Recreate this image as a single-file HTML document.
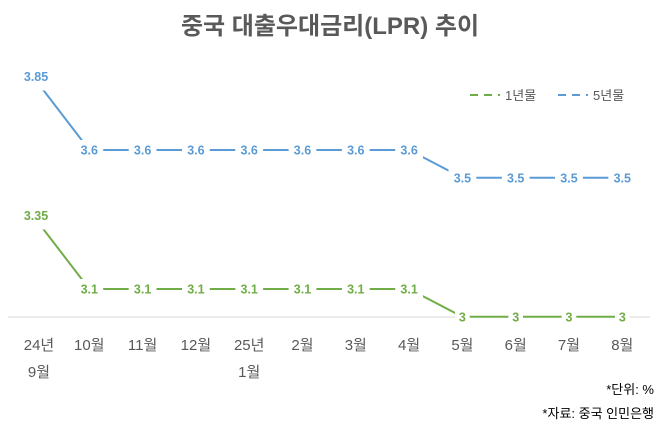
<!DOCTYPE html>
<html><head><meta charset="utf-8">
<style>
html,body{margin:0;padding:0;background:#fff;}
svg{display:block;font-family:"Liberation Sans","Noto Sans CJK KR",sans-serif;}
</style></head>
<body>
<svg id="chart" width="661" height="427" viewBox="0 0 661 427">
  <text x="330" y="34" text-anchor="middle" font-size="24" font-weight="bold" fill="#595959">중국 대출우대금리(LPR) 추이</text>
  <g>
    <g>
      <line x1="470" y1="95" x2="500" y2="95" stroke="#70AD47" stroke-width="2" stroke-dasharray="8,6"/>
      <text x="505" y="100" font-size="13" fill="#595959">1년물</text>
    </g>
    <g>
      <line x1="558" y1="95" x2="588" y2="95" stroke="#5B9BD5" stroke-width="2" stroke-dasharray="8,6"/>
      <text x="593" y="100" font-size="13" fill="#595959">5년물</text>
    </g>
  </g>
  <line x1="8" y1="317" x2="650" y2="317" stroke="#D9D9D9" stroke-width="1"/>
  <g id="series"></g>
  <g id="xlabels"></g>
  <text x="654" y="394" text-anchor="end" font-size="13" fill="#000">*단위: %</text>
  <text x="654" y="418" text-anchor="end" font-size="13" fill="#000">*자료: 중국 인민은행</text>
</svg>
<script>
const categories = [["24년","9월"],["10월"],["11월"],["12월"],["25년","1월"],["2월"],["3월"],["4월"],["5월"],["6월"],["7월"],["8월"]];
const lpr1y = [3.35,3.1,3.1,3.1,3.1,3.1,3.1,3.1,3,3,3,3];
const lpr5y = [3.85,3.6,3.6,3.6,3.6,3.6,3.6,3.6,3.5,3.5,3.5,3.5];
const labels1y = ["3.35","3.1","3.1","3.1","3.1","3.1","3.1","3.1","3","3","3","3"];
const labels5y = ["3.85","3.6","3.6","3.6","3.6","3.6","3.6","3.6","3.5","3.5","3.5","3.5"];

const NS = "http://www.w3.org/2000/svg";
function xPos(i){ return 36 + i * 53.3; }
function yPos(v){ return 150 + (3.6 - v) * 278; }

const seriesG = document.getElementById('series');
function drawSeries(vals, labs, color, key){
  const g = document.createElementNS(NS,'g');
  
  
  seriesG.appendChild(g);
  const pl = document.createElementNS(NS,'polyline');
  pl.setAttribute('points', vals.map((v,i)=>xPos(i)+','+yPos(v)).join(' '));
  pl.setAttribute('fill','none');
  pl.setAttribute('stroke',color);
  pl.setAttribute('stroke-width','2');
  
  
  g.appendChild(pl);
  vals.forEach((v,i)=>{
    const r = document.createElementNS(NS,'rect');
    const w = labs[i].length * 6.6 + 8;
    r.setAttribute('x', xPos(i) - w/2);
    r.setAttribute('y', yPos(v) - 10);
    r.setAttribute('width', w);
    r.setAttribute('height', 20);
    r.setAttribute('fill', '#fff');
    
    
    g.appendChild(r);
    const t = document.createElementNS(NS,'text');
    t.setAttribute('x', xPos(i));
    t.setAttribute('y', yPos(v) + 4.5 - (i===0 ? 4 : 0));
    t.setAttribute('text-anchor','middle');
    t.setAttribute('font-size','12.5');
    t.setAttribute('font-weight','bold');
    t.setAttribute('fill', color);
    t.textContent = labs[i];
    
    
    g.appendChild(t);
  });
}
drawSeries(lpr5y, labels5y, '#5B9BD5', 'lpr-5y');
drawSeries(lpr1y, labels1y, '#70AD47', 'lpr-1y');

const xg = document.getElementById('xlabels');
categories.forEach((c,i)=>{
  c.forEach((line,j)=>{
    const t = document.createElementNS(NS,'text');
    t.setAttribute('x', xPos(i) + (i===0 ? 3 : 0));
    t.setAttribute('y', 350 + j*27);
    t.setAttribute('text-anchor','middle');
    t.setAttribute('font-size','15');
    t.setAttribute('fill','#595959');
    t.textContent = line;
    
    
    xg.appendChild(t);
  });
});
</script>
</body></html>
